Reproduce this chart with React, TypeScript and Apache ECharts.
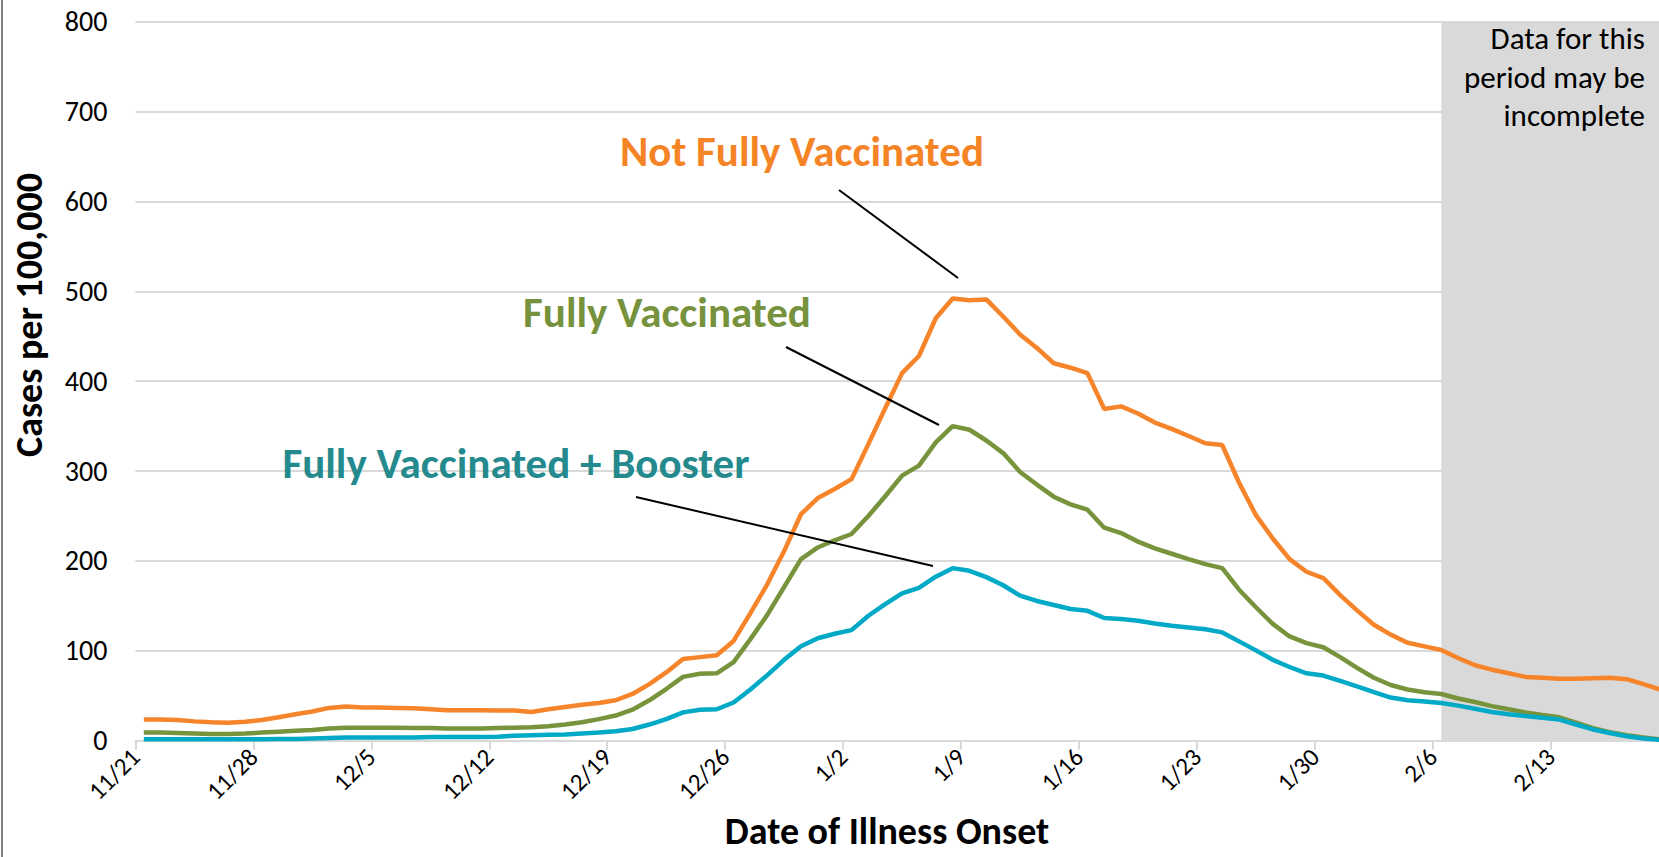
import React, { useEffect, useRef } from "react";
import * as echarts from "echarts";

// Tick labels, one every 7 days starting 11/21
const tickLabels = ["11/21", "11/28", "12/5", "12/12", "12/19", "12/26", "1/2", "1/9", "1/16", "1/23", "1/30", "2/6", "2/13"];

// Daily case rates per 100,000, 11/21 .. 2/20
const notFullyVaccinated = [
  23.5, 23.5, 23, 21.5, 20.5, 20, 21, 23, 26, 29.5, 32.5, 36.5, 38, 37, 37, 36.5, 36, 35, 34, 34,
  34, 33.5, 33.5, 32, 35, 37.5, 40, 42, 45, 52, 63, 76, 91, 93, 95, 111, 142, 174, 211, 252,
  270, 280, 291, 330, 370, 409, 428, 470, 492, 490, 491, 472, 452, 437, 420, 415, 409, 369, 372, 364,
  354, 347, 339, 331, 329, 287, 251, 225, 202, 188, 181, 162, 145, 129, 118, 109, 105, 101, 92, 84,
  79, 75, 71, 70, 69, 69, 69.5, 70, 68.5, 63, 57,
];
const fullyVaccinated = [
  9, 9, 8.5, 8, 7.5, 7.5, 8, 9, 10, 11, 12, 13.5, 14.5, 14.5, 14.5, 14.5, 14, 14, 13.5, 13.5,
  13.5, 14, 14.5, 15, 16, 18, 20.5, 24, 28, 34.5, 45, 57.5, 71, 74.5, 75, 87.5, 113, 140, 171, 202,
  215, 223, 230, 250, 272, 295, 306, 332, 350, 346, 334, 320, 299, 285, 271.5, 263, 257, 237, 231, 221.5,
  214, 208, 202, 196.5, 192, 168, 148.5, 130, 116, 108.5, 104, 93, 81, 70, 62, 57, 54, 52, 47, 43,
  38.5, 35, 31.5, 28.5, 26, 20, 14, 9.5, 6, 3.5, 1.5,
];
const fullyVaccinatedBooster = [
  1.5, 1.5, 1.5, 1.5, 1.5, 1.5, 1.5, 1.5, 2, 2, 2.5, 3, 3.5, 3.5, 3.5, 3.5, 3.5, 4, 4, 4,
  4, 4.5, 5.5, 6, 6.5, 7, 8, 9, 10.5, 13, 18, 24, 31.5, 34.5, 35, 42.5, 57, 73, 90, 105,
  114, 119, 123, 139, 152, 164, 170, 182.5, 192, 189, 182, 173, 161.5, 155.5, 151, 146.5, 144.5, 136.5, 135.5, 133.5,
  130.5, 128, 126, 124, 120.5, 110.5, 100.5, 90, 82, 75, 72.5, 66.5, 60.5, 54, 48, 45, 43.5, 42, 39, 35.5,
  32, 29.5, 27.5, 25.5, 23.5, 18, 12.5, 8.5, 5, 2.5, 1,
];
const incompleteStartIndex = 77; // 2/6
const seriesNames = ["Not Fully Vaccinated", "Fully Vaccinated", "Fully Vaccinated + Booster"];

const FONT = "Carlito, Lato, sans-serif";
const W = 1659;
const H = 857;
const GRID_LEFT = 135.4;
const GRID_TOP = 21.7;
const GRID_BOTTOM = 116.3;
const DAY_PX = 16.85;
const X_MAX = (W - GRID_LEFT) / DAY_PX;

const toPoints = (arr: number[]) => arr.map((v, i) => [i + 0.5, v]);

const centered = (text: string, x: number, y: number, font: string, fill: string, lineHeight: number, extra: any = {}) => ({
  type: "text",
  x,
  y,
  z: 10,
  ...extra,
  style: {
    text,
    font,
    fill,
    lineHeight,
    textAlign: "center",
    align: "center",
    textVerticalAlign: "middle",
    verticalAlign: "middle",
  },
});

export default function App() {
  const ref = useRef<HTMLDivElement>(null);
  useEffect(() => {
    if (!ref.current) return;
    const chart = echarts.init(ref.current, undefined, { renderer: "svg" });
    const orange = "#F5842A";
    const green = "#77933C";
    const teal = "#00A9C6";
    chart.setOption({
      animation: false,
      backgroundColor: "#FFFFFF",
      grid: { left: GRID_LEFT, top: GRID_TOP, right: 0, bottom: GRID_BOTTOM, containLabel: false },
      xAxis: {
        type: "value",
        min: 0,
        max: X_MAX,
        interval: 7,
        splitLine: { show: false },
        axisLine: { show: true, lineStyle: { color: "#D9D9D9", width: 2 } },
        axisTick: { show: true, length: 9, lineStyle: { color: "#D9D9D9", width: 2 } },
        axisLabel: {
          rotate: 45,
          fontSize: 25,
          fontFamily: FONT,
          color: "#000",
          margin: 12,
          showMaxLabel: false,
          formatter: (v: number) => {
            const k = Math.round(v / 7);
            return Math.abs(v - k * 7) < 1e-6 && tickLabels[k] ? tickLabels[k] : "";
          },
        },
      },
      yAxis: {
        type: "value",
        min: 0,
        max: 800,
        interval: 100,
        axisLine: { show: false },
        axisTick: { show: false },
        axisLabel: { fontSize: 28, fontFamily: FONT, color: "#000", margin: 28 },
        splitLine: { lineStyle: { color: "#D9D9D9", width: 2 } },
      },
      series: [
        {
          type: "line",
          name: "incomplete",
          data: [],
          z: 1,
          silent: true,
          markArea: {
            silent: true,
            itemStyle: { color: "#D9D9D9" },
            data: [[{ xAxis: incompleteStartIndex + 0.5, yAxis: 0 }, { xAxis: X_MAX, yAxis: 800 }]],
          },
        },
        {
          type: "line",
          name: seriesNames[0],
          data: toPoints(notFullyVaccinated),
          showSymbol: false,
          z: 3,
          lineStyle: { color: orange, width: 4.5 },
        },
        {
          type: "line",
          name: seriesNames[1],
          data: toPoints(fullyVaccinated),
          showSymbol: false,
          z: 3,
          lineStyle: { color: green, width: 4.5 },
        },
        {
          type: "line",
          name: seriesNames[2],
          data: toPoints(fullyVaccinatedBooster),
          showSymbol: false,
          z: 3,
          lineStyle: { color: teal, width: 4.5 },
        },
      ],
      graphic: [
        { type: "line", shape: { x1: 2, y1: 0, x2: 2, y2: H }, style: { stroke: "#7F7F7F", lineWidth: 2 } },
        {
          type: "text",
          x: 1645,
          y: 19,
          z: 10,
          style: {
            text: "Data for this\nperiod may be\nincomplete",
            font: `31px ${FONT}`,
            fill: "#000",
            textAlign: "right",
            align: "right",
            lineHeight: 38.5,
          },
        },
        centered("Cases per 100,000", 29, 315, `bold 38px ${FONT}`, "#000", 40, { rotation: Math.PI / 2 }),
        centered("Date of Illness Onset", 887, 831, `bold 38px ${FONT}`, "#000", 38),
        centered(seriesNames[0], 802, 151, `bold 43px ${FONT}`, "#F58426", 46),
        centered(seriesNames[1], 667, 312, `bold 43px ${FONT}`, "#76923C", 46),
        centered(seriesNames[2], 516, 463, `bold 43px ${FONT}`, "#248A8E", 46),
        { type: "line", z: 10, shape: { x1: 839, y1: 190, x2: 958, y2: 278 }, style: { stroke: "#000", lineWidth: 2 } },
        { type: "line", z: 10, shape: { x1: 786, y1: 347, x2: 939, y2: 425 }, style: { stroke: "#000", lineWidth: 2 } },
        { type: "line", z: 10, shape: { x1: 636, y1: 497, x2: 933, y2: 566 }, style: { stroke: "#000", lineWidth: 2 } },
      ],
    });
    return () => chart.dispose();
  }, []);
  return <div ref={ref} style={{ position: "absolute", left: 0, top: 0, width: W, height: H }} />;
}
